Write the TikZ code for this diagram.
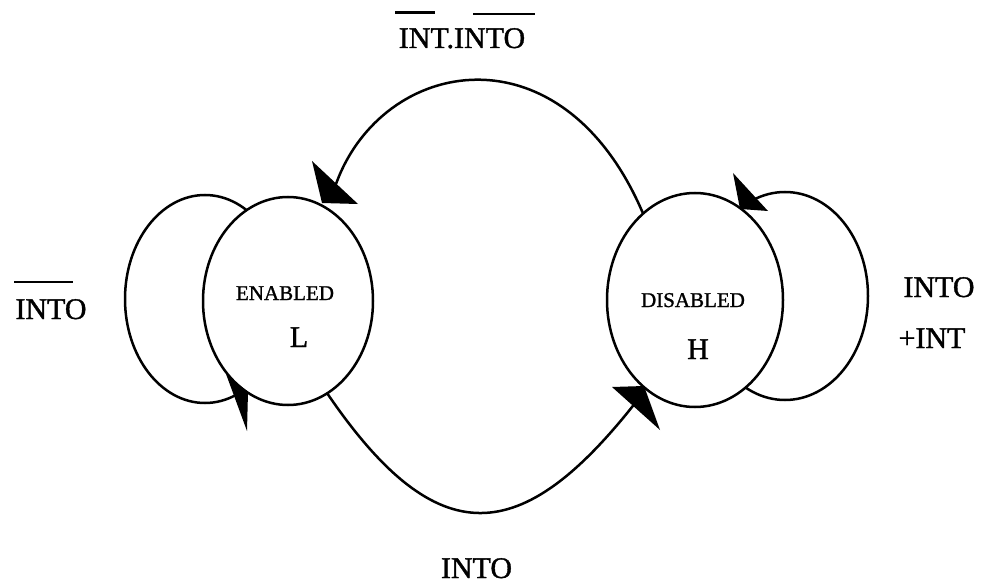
\documentclass[tikz,border=0pt]{standalone}
\usepackage{fontspec}
\setmainfont[BoldFont={Liberation Serif},BoldFeatures={FakeBold=1.2}]{Liberation Serif}
\usetikzlibrary{shapes.geometric}
\begin{document}
\begin{tikzpicture}[x=1pt,y=-1pt, line width=2.5pt,
  state/.style={ellipse, draw, fill=white, inner sep=0pt, outer sep=0pt},
  lbl/.style={font=\fontsize{30}{36}\selectfont\bfseries, anchor=base, inner sep=0pt},
  smalllbl/.style={font=\fontsize{21}{25}\selectfont\bfseries, anchor=base, inner sep=0pt},
  headfill/.style={fill=black, draw=none},
  barline/.style={line width=2.2pt}]
\useasboundingbox (0,0) rectangle (999,583);
% self loops
\draw (205,299) ellipse [x radius=80pt, y radius=104pt];
\draw (785,296) ellipse [x radius=83pt, y radius=104pt];
% states
\node[state, minimum width=170pt, minimum height=208pt] (en) at (288,301) {};
\node[state, minimum width=176pt, minimum height=214pt] (dis) at (695,300) {};
\node[smalllbl] (tEn) at (285,300) {ENABLED};
\node[lbl] (tL) at (299,347) {L};
\node[smalllbl] (tDis) at (693,307) {DISABLED};
\node[lbl] (tH) at (698,359) {H};
% transitions
\coordinate (endA) at (336,184);
\draw (dis.121) .. controls (562,23) and (382,57) .. (endA);
\coordinate (endB) at (636,402);
\draw (en.-67.5) .. controls (438,556) and (522,547) .. (endB);
% arrowheads
\fill[headfill] (312,161) -- (358,204) -- (322,203) -- cycle;
\fill[headfill] (612,387) -- (644,386) -- (660,430) -- cycle;
\fill[headfill] (226,374) -- (248,392) -- (247,431) -- cycle;
\fill[headfill] (733,173) -- (768,211) -- (740,209) -- cycle;
% labels
\node[lbl] (lTop) at (462,48) {INT.INTO};
\node[lbl] (lLeft) at (51,319) {INTO};
\node[lbl] (lR1) at (939,297) {INTO};
\node[lbl] (lR2) at (932,348) {+INT};
\node[lbl] (lBot) at (476.5,578) {INTO};
% overbars
\draw[barline] (395,12.5) -- (435,12.5);
\draw[barline] (473,14) -- (535,14);
\draw[barline] (14,282) -- (73,282);
\end{tikzpicture}
\end{document}
